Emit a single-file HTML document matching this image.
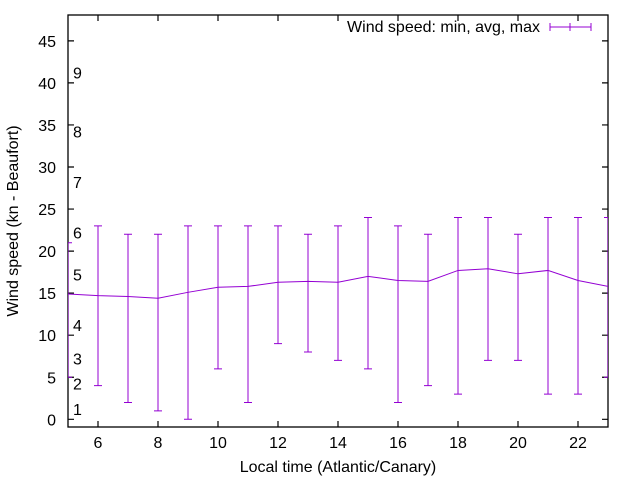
<!DOCTYPE html>
<html><head><meta charset="utf-8"><style>
body{margin:0;background:#fff}
svg{display:block;font-family:"Liberation Sans",sans-serif;font-size:16px}
</style></head><body>
<svg width="640" height="480" id="chart">
<g id="axes"></g>
<g id="marks"></g>
<text x="338" y="472" text-anchor="middle">Local time (Atlantic/Canary)</text>
<text transform="translate(18,221) rotate(-90)" text-anchor="middle">Wind speed (kn - Beaufort)</text>
<g>
<text x="540" y="32" text-anchor="end">Wind speed: min, avg, max</text>
<g stroke="#9400d3" stroke-width="1">
<line x1="550" y1="27" x2="591" y2="27"/><line x1="550" y1="23" x2="550" y2="31"/><line x1="591" y1="23" x2="591" y2="31"/><line x1="570" y1="23" x2="570" y2="31"/>
</g></g>
</svg>
<script>
const hours=[5,6,7,8,9,10,11,12,13,14,15,16,17,18,19,20,21,22,23];
const avgs=[14.9,14.7,14.6,14.4,15.1,15.7,15.8,16.3,16.4,16.3,17.0,16.5,16.4,17.7,17.9,17.3,17.7,16.5,15.8];
const mins=[5,4,2,1,0,6,2,9,8,7,6,2,4,3,7,7,3,3,5];
const maxs=[21,23,22,22,23,23,23,23,22,23,24,23,22,24,24,22,24,24,24];
const xTicks=[6,8,10,12,14,16,18,20,22];
const yTicks=[0,5,10,15,20,25,30,35,40,45];
const bftLabels=["1","2","3","4","5","6","7","8","9"];
const bftValues=[1,4,7,11,17,22,28,34,41];
const L=68,R=608,T=15,B=427;
const X=v=>L+(v-5)*(R-L)/18;
const Y=v=>419.3-v*8.41;
const NS="http://www.w3.org/2000/svg";
function mk(tag,attrs,parent){const e=document.createElementNS(NS,tag);for(const k in attrs)e.setAttribute(k,attrs[k]);parent.appendChild(e);return e;}
const ax=document.getElementById('axes'),mg=document.getElementById('marks');
const frame=mk('rect',{x:L,y:T,width:R-L,height:B-T,fill:'none',stroke:'#000','stroke-width':1.3},ax);


yTicks.forEach(v=>{
 const y=Y(v);
 const t=mk('path',{d:`M${L} ${y}h6M${R} ${y}h-6`,stroke:'#000','stroke-width':1.2},ax);
 
 
 const l=mk('text',{x:L-12,y:y+6,'text-anchor':'end'},ax);l.textContent=v;
 
 
});
xTicks.forEach(v=>{
 const x=X(v);
 const t=mk('path',{d:`M${x} ${B}v-6M${x} ${T}v6`,stroke:'#000','stroke-width':1.2},ax);
 
 
 const l=mk('text',{x:x,y:B+21,'text-anchor':'middle'},ax);l.textContent=v;
 
 
});
bftLabels.forEach((s,i)=>{
 const l=mk('text',{x:73,y:Y(bftValues[i])+4},ax);l.textContent=s;
 
 
});
const clip=mk('clipPath',{id:'pc'},mg);mk('rect',{x:L,y:T,width:R-L,height:B-T},clip);
const g=mk('g',{'clip-path':'url(#pc)',stroke:'#9400d3','stroke-width':1,fill:'none'},mg);
const line=mk('polyline',{points:hours.map((h,i)=>X(h)+','+Y(avgs[i])).join(' ')},g);


hours.forEach((h,i)=>{
 const x=X(h),y1=Y(mins[i]),y2=Y(maxs[i]);
 const b=mk('path',{d:`M${x} ${y1}V${y2}M${x-4} ${y1}h8M${x-4} ${y2}h8`},g);
 
 
});
</script>
</body></html>
